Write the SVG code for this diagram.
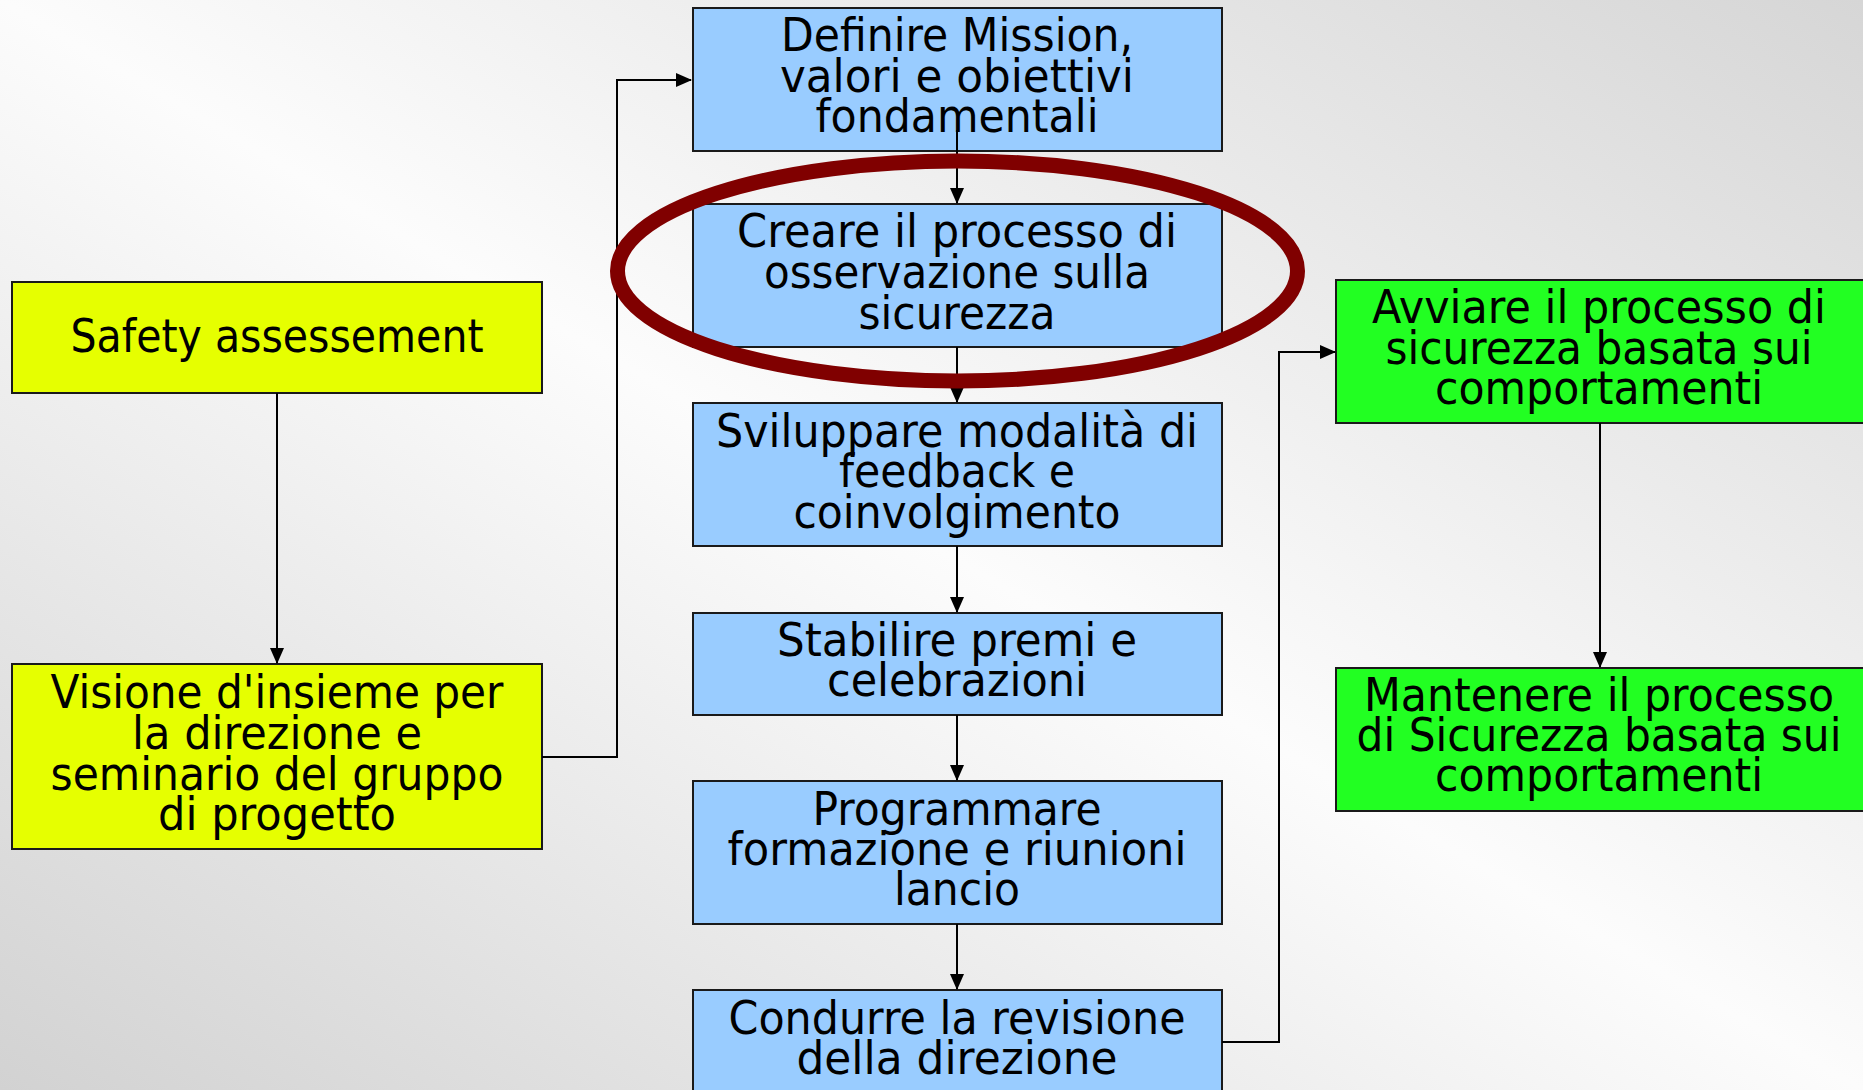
<svg xmlns="http://www.w3.org/2000/svg" width="1863" height="1090" viewBox="0 0 1863 1090">
<defs>
<linearGradient id="bg" x1="0" y1="1" x2="1" y2="0">
<stop offset="0" stop-color="#d2d2d2"/>
<stop offset="0.5" stop-color="#fcfcfc"/>
<stop offset="1" stop-color="#d6d6d6"/>
</linearGradient>
<marker id="arr" markerWidth="16" markerHeight="14" refX="15" refY="7" orient="auto" markerUnits="userSpaceOnUse">
<path d="M0,0 L16,7 L0,14 Z" fill="#000"/>
</marker>
<style>
.box{stroke:#1a1a1a;stroke-width:2}
.y{fill:#e6ff00}
.b{fill:#99ccff}
.g{fill:#22ff22}
.t{font-family:"DejaVu Sans","Liberation Sans",sans-serif;font-size:46px;fill:#000;text-anchor:middle}
.c{fill:none;stroke:#000;stroke-width:2}
</style>
</defs>
<rect x="0" y="0" width="1863" height="1090" fill="url(#bg)"/>

<g id="safety">
<rect class="box y" x="12" y="282" width="530" height="111"/>
<text class="t" x="277" y="352" textLength="413" lengthAdjust="spacingAndGlyphs">Safety assessement</text>
</g>

<g id="visione">
<rect class="box y" x="12" y="664" width="530" height="185"/>
<text class="t" x="277" y="708" textLength="453" lengthAdjust="spacingAndGlyphs">Visione d'insieme per</text>
<text class="t" x="277" y="748.5" textLength="290" lengthAdjust="spacingAndGlyphs">la direzione e</text>
<text class="t" x="277" y="789.5" textLength="453" lengthAdjust="spacingAndGlyphs">seminario del gruppo</text>
<text class="t" x="277" y="830" textLength="238" lengthAdjust="spacingAndGlyphs">di progetto</text>
</g>

<g id="definire">
<rect class="box b" x="693" y="8" width="529" height="143"/>
<text class="t" x="957" y="51" textLength="352" lengthAdjust="spacingAndGlyphs">Definire Mission,</text>
<text class="t" x="957" y="91.5" textLength="354" lengthAdjust="spacingAndGlyphs">valori e obiettivi</text>
<text class="t" x="957" y="132" textLength="283" lengthAdjust="spacingAndGlyphs">fondamentali</text>
</g>

<g id="creare">
<rect class="box b" x="693" y="204" width="529" height="143"/>
<text class="t" x="957" y="247" textLength="440" lengthAdjust="spacingAndGlyphs">Creare il processo di</text>
<text class="t" x="957" y="288" textLength="386" lengthAdjust="spacingAndGlyphs">osservazione sulla</text>
<text class="t" x="957" y="328.5" textLength="197" lengthAdjust="spacingAndGlyphs">sicurezza</text>
</g>

<g id="sviluppare">
<rect class="box b" x="693" y="403" width="529" height="143"/>
<text class="t" x="957" y="447" textLength="482" lengthAdjust="spacingAndGlyphs">Sviluppare modalità di</text>
<text class="t" x="957" y="487" textLength="236" lengthAdjust="spacingAndGlyphs">feedback e</text>
<text class="t" x="957" y="527.5" textLength="327" lengthAdjust="spacingAndGlyphs">coinvolgimento</text>
</g>

<g id="stabilire">
<rect class="box b" x="693" y="613" width="529" height="102"/>
<text class="t" x="957" y="656" textLength="360" lengthAdjust="spacingAndGlyphs">Stabilire premi e</text>
<text class="t" x="957" y="696" textLength="260" lengthAdjust="spacingAndGlyphs">celebrazioni</text>
</g>

<g id="programmare">
<rect class="box b" x="693" y="781" width="529" height="143"/>
<text class="t" x="957" y="824.5" textLength="289" lengthAdjust="spacingAndGlyphs">Programmare</text>
<text class="t" x="957" y="865" textLength="459" lengthAdjust="spacingAndGlyphs">formazione e riunioni</text>
<text class="t" x="957" y="905" textLength="126" lengthAdjust="spacingAndGlyphs">lancio</text>
</g>

<g id="condurre">
<rect class="box b" x="693" y="990" width="529" height="110"/>
<text class="t" x="957" y="1033.5" textLength="457" lengthAdjust="spacingAndGlyphs">Condurre la revisione</text>
<text class="t" x="957" y="1074" textLength="321" lengthAdjust="spacingAndGlyphs">della direzione</text>
</g>

<g id="avviare">
<rect class="box g" x="1336" y="280" width="540" height="143"/>
<text class="t" x="1599" y="323" textLength="454" lengthAdjust="spacingAndGlyphs">Avviare il processo di</text>
<text class="t" x="1599" y="363.5" textLength="427" lengthAdjust="spacingAndGlyphs">sicurezza basata sui</text>
<text class="t" x="1599" y="404" textLength="328" lengthAdjust="spacingAndGlyphs">comportamenti</text>
</g>

<g id="mantenere">
<rect class="box g" x="1336" y="668" width="540" height="143"/>
<text class="t" x="1599" y="710.5" textLength="470" lengthAdjust="spacingAndGlyphs">Mantenere il processo</text>
<text class="t" x="1599" y="751" textLength="485" lengthAdjust="spacingAndGlyphs">di Sicurezza basata sui</text>
<text class="t" x="1599" y="791" textLength="328" lengthAdjust="spacingAndGlyphs">comportamenti</text>
</g>

<g id="connectors">
<path class="c" d="M277,393 V663" marker-end="url(#arr)"/>
<path class="c" d="M542,757 H617 V80 H691" marker-end="url(#arr)"/>
<path class="c" d="M957,130 V203" marker-end="url(#arr)"/>
<path class="c" d="M957,347 V402" marker-end="url(#arr)"/>
<path class="c" d="M957,546 V612" marker-end="url(#arr)"/>
<path class="c" d="M957,715 V780" marker-end="url(#arr)"/>
<path class="c" d="M957,924 V989" marker-end="url(#arr)"/>
<path class="c" d="M1222,1042 H1279 V352 H1335" marker-end="url(#arr)"/>
<path class="c" d="M1600,423 V667" marker-end="url(#arr)"/>
</g>

<g id="highlight">
<ellipse cx="957.5" cy="271" rx="340" ry="110" fill="none" stroke="#800000" stroke-width="15"/>
</g>
</svg>
